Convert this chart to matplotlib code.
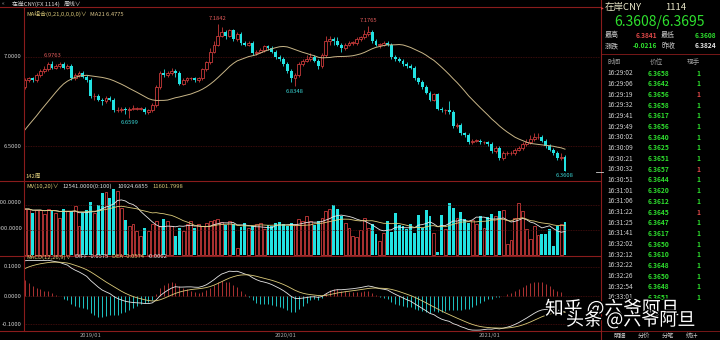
import numpy as np
import pandas as pd
import matplotlib
matplotlib.use('Agg')
import matplotlib.pyplot as plt
from matplotlib import patheffects as pe

plt.rcParams['font.family'] = ['Noto Sans CJK SC', 'DejaVu Sans']

# weekly closes before the visible window (only feed MA21 / MACD)
pre_closes = [6.49, 6.45, 6.40, 6.33, 6.29, 6.32, 6.33, 6.34, 6.33, 6.33,
              6.32, 6.28, 6.31, 6.29, 6.31, 6.33, 6.36, 6.33, 6.38, 6.39,
              6.41, 6.40, 6.44, 6.49, 6.62, 6.64, 6.69, 6.78, 6.82, 6.83,
              6.84, 6.84, 6.81, 6.83]

closes = [6.87, 6.88, 6.87, 6.90, 6.92, 6.93, 6.96, 6.94, 6.95, 6.96,
          6.94, 6.95, 6.88, 6.90, 6.91, 6.89, 6.87, 6.78, 6.78, 6.76,
          6.75, 6.77, 6.76, 6.70, 6.70, 6.71, 6.70, 6.71, 6.71, 6.71,
          6.71, 6.69, 6.70, 6.73, 6.83, 6.91, 6.90, 6.91, 6.92, 6.91,
          6.85, 6.87, 6.88, 6.88, 6.87, 6.88, 6.93, 6.97, 7.03, 7.07,
          7.12, 7.14, 7.12, 7.15, 7.10, 7.13, 7.08, 7.07, 7.08, 7.02,
          7.03, 7.04, 7.06, 7.05, 7.03, 7.00, 6.99, 6.96, 6.92, 6.88,
          6.90, 6.96, 6.98, 6.99, 7.00, 6.98, 6.95, 7.01, 7.09, 7.10,
          7.09, 7.07, 7.05, 7.07, 7.08, 7.08, 7.10, 7.11, 7.13, 7.14,
          7.09, 7.07, 7.07, 7.08, 7.07, 7.00, 6.99, 6.98, 6.96, 6.95,
          6.94, 6.88, 6.86, 6.83, 6.80, 6.76, 6.79, 6.71, 6.70, 6.70,
          6.69, 6.61, 6.62, 6.57, 6.56, 6.52, 6.53, 6.53, 6.52, 6.52,
          6.51, 6.47, 6.49, 6.43, 6.46, 6.46, 6.46, 6.48, 6.49, 6.51,
          6.52, 6.54, 6.55, 6.55, 6.53, 6.50, 6.48, 6.46, 6.43, 6.44, 6.3608]

highs = [6.88, 6.89, 6.89, 6.91, 6.93, 6.95, 6.97, 6.9763, 6.96, 6.97,
         6.97, 6.96, 6.96, 6.91, 6.92, 6.92, 6.90, 6.88, 6.80, 6.79,
         6.77, 6.78, 6.78, 6.77, 6.72, 6.72, 6.72, 6.72, 6.73, 6.72,
         6.72, 6.72, 6.71, 6.74, 6.84, 6.92, 6.93, 6.92, 6.94, 6.93,
         6.92, 6.88, 6.89, 6.89, 6.89, 6.89, 6.94, 6.98, 7.05, 7.09,
         7.1842, 7.17, 7.15, 7.16, 7.16, 7.14, 7.14, 7.09, 7.09, 7.09,
         7.04, 7.05, 7.07, 7.07, 7.06, 7.04, 7.01, 7.00, 6.97, 6.93,
         6.91, 6.97, 6.99, 7.01, 7.02, 7.01, 6.99, 7.02, 7.12, 7.12,
         7.11, 7.11, 7.08, 7.08, 7.09, 7.09, 7.11, 7.12, 7.15, 7.1765,
         7.15, 7.10, 7.08, 7.09, 7.09, 7.08, 7.01, 7.00, 6.99, 6.97,
         6.96, 6.95, 6.89, 6.87, 6.84, 6.81, 6.80, 6.80, 6.72, 6.71,
         6.75, 6.70, 6.63, 6.63, 6.58, 6.57, 6.54, 6.54, 6.54, 6.53,
         6.53, 6.52, 6.50, 6.50, 6.47, 6.47, 6.47, 6.49, 6.50, 6.52,
         6.54, 6.56, 6.57, 6.57, 6.56, 6.54, 6.51, 6.49, 6.47, 6.46, 6.45]

lows = [6.82, 6.86, 6.86, 6.86, 6.89, 6.91, 6.92, 6.93, 6.93, 6.94,
        6.93, 6.93, 6.87, 6.87, 6.89, 6.88, 6.86, 6.77, 6.76, 6.75,
        6.73, 6.74, 6.75, 6.69, 6.69, 6.69, 6.68, 6.6599, 6.70, 6.70,
        6.70, 6.68, 6.68, 6.69, 6.72, 6.82, 6.89, 6.89, 6.90, 6.89,
        6.84, 6.84, 6.86, 6.87, 6.86, 6.86, 6.87, 6.92, 6.96, 7.02,
        7.06, 7.11, 7.10, 7.11, 7.09, 7.09, 7.07, 7.06, 7.06, 7.01,
        7.01, 7.02, 7.03, 7.04, 7.02, 6.99, 6.98, 6.95, 6.91, 6.86,
        6.8348, 6.89, 6.95, 6.97, 6.98, 6.97, 6.93, 6.94, 7.00, 7.07,
        7.07, 7.06, 7.03, 7.04, 7.06, 7.07, 7.07, 7.09, 7.10, 7.12,
        7.08, 7.06, 7.05, 7.06, 7.06, 6.99, 6.98, 6.97, 6.95, 6.94,
        6.93, 6.87, 6.85, 6.82, 6.79, 6.75, 6.75, 6.70, 6.69, 6.68,
        6.68, 6.60, 6.60, 6.56, 6.55, 6.51, 6.51, 6.52, 6.51, 6.51,
        6.50, 6.46, 6.46, 6.42, 6.42, 6.45, 6.45, 6.45, 6.47, 6.48,
        6.50, 6.51, 6.53, 6.54, 6.52, 6.49, 6.47, 6.45, 6.42, 6.42, 6.3608]

volumes = [18400, 18400, 17000, 18000, 18000, 16500, 18400, 17600, 17000, 15000,
           18400, 17500, 17600, 19600, 11600, 17000, 18000, 21200, 17000, 20000,
           24800, 25200, 23000, 26500, 25600, 19000, 14000, 11600, 12400, 9600,
           7600, 10800, 9600, 12400, 13600, 11600, 14400, 13600, 11600, 7600,
           10800, 9600, 12400, 13600, 10800, 12400, 11600, 12800, 13600, 14000,
           14400, 13200, 12000, 13600, 12400, 3000, 11200, 12800, 10800, 11600,
           12400, 12800, 10400, 12000, 11600, 12800, 13200, 12400, 11600, 12800,
           12000, 14400, 13600, 15600, 13600, 12000, 13600, 14800, 17600, 18400,
           20000, 18400, 15600, 12800, 11000, 7600, 7200, 10000, 14800, 10800,
           12400, 8400, 5600, 8800, 13600, 9200, 16800, 12000, 11600, 10400,
           12400, 8800, 16000, 10800, 18000, 15600, 8800, 1200, 16000, 10400,
           20800, 18800, 14800, 17200, 14400, 12800, 14000, 12400, 15600, 10800,
           15200, 16400, 15600, 17600, 18000, 4400, 6000, 14800, 20800, 17600,
           10400, 6400, 11600, 8000, 8400, 8400, 10400, 3600, 11600, 12400, 13200]

mark_high = [7, 50, 89]
mark_low = [27, 70, 140]

year_labels = ['2019/01', '2020/01', '2021/01']
year_pos = [17, 67.5, 120.5]

tick_times = ['16:29:02', '16:29:06', '16:29:19', '16:29:32', '16:29:41', '16:29:49',
              '16:30:02', '16:30:09', '16:30:21', '16:30:32', '16:30:51', '16:31:01',
              '16:31:06', '16:31:22', '16:31:25', '16:31:41', '16:32:02', '16:32:12',
              '16:32:22', '16:32:26', '16:32:54', '16:33:01']
tick_prices = [6.3658, 6.3642, 6.3656, 6.3658, 6.3617, 6.3656, 6.3640, 6.3625,
               6.3651, 6.3657, 6.3644, 6.3620, 6.3612, 6.3645, 6.3647, 6.3617,
               6.3650, 6.3610, 6.3648, 6.3650, 6.3648, 6.3651]
tick_buy = [2, 9, 13]   # rows whose hand count is shown in red

W, H = 720, 340
RED = '#c83a3a'
CYAN = '#22e2e2'
FRAME = '#8a1c1c'
GRID = '#4e1010'
GREY = '#cfcfcf'
YEL = '#dccb7a'
GREEN = '#2ee02e'
SMALL = 4.2

fig = plt.figure(figsize=(7.2, 3.4), dpi=100, facecolor='black')


def rect(x0, y0, x1, y1):
    return [x0 / W, 1 - y1 / H, (x1 - x0) / W, (y1 - y0) / H]


def put(x, y, s, **kw):
    kw.setdefault('va', 'center')
    kw.setdefault('color', GREY)
    kw.setdefault('fontsize', SMALL)
    return fig.text(x / W, 1 - y / H, s, **kw)


def hline(y, x0, x1, **kw):
    fig.add_artist(plt.Line2D([x0 / W, x1 / W], [1 - y / H, 1 - y / H], **kw))


def vline(x, y0, y1, **kw):
    fig.add_artist(plt.Line2D([x / W, x / W], [1 - y0 / H, 1 - y1 / H], **kw))


ax_k = fig.add_axes(rect(24, 7, 600, 181))
ax_v = fig.add_axes(rect(24, 181, 600, 256))
ax_m = fig.add_axes(rect(24, 256, 600, 331))
xlim = (-0.26, 149.07)
for ax in (ax_k, ax_v, ax_m):
    ax.set_facecolor('black')
    ax.set_xlim(*xlim)
    ax.set_axis_off()
ax_k.set_ylim(6.303, 7.281)
ax_v.set_ylim(-400, 29600)
ax_m.set_ylim(-0.1228, 0.140)

n = len(closes)
idx = np.arange(n)
c = np.array(closes)
o = np.r_[pre_closes[-1], c[:-1]]
h = np.array(highs)
l = np.array(lows)
up = c >= o

# grid lines
for yv in (7.0, 6.5):
    ax_k.axhline(yv, color=GRID, lw=0.6, ls=(0, (1, 1)))
for yv in (20000, 10000):
    ax_v.axhline(yv, color=GRID, lw=0.6, ls=(0, (1, 1)))
for yv in (0.1, 0.0, -0.1):
    ax_m.axhline(yv, color=GRID, lw=0.6, ls=(0, (1, 1)))

# candles
ax_k.vlines(idx, l, h, colors=np.where(up, RED, CYAN), lw=0.6, zorder=2)
body_lo = np.minimum(o, c)
body_h = np.maximum(np.abs(c - o), 0.002)
ax_k.bar(idx[up], body_h[up], bottom=body_lo[up], width=0.75,
         facecolor='black', edgecolor=RED, lw=0.6, zorder=3)
ax_k.bar(idx[~up], body_h[~up], bottom=body_lo[~up], width=0.75,
         color=CYAN, lw=0, zorder=3)

allc = pd.Series(pre_closes + closes)
k0 = len(pre_closes)
ma21 = allc.rolling(21).mean().to_numpy()[k0:]
ax_k.plot(idx, ma21, color='#c9b688', lw=0.7, zorder=4)

for i in mark_high:
    ax_k.annotate(f'{highs[i]:.4f}', (i, highs[i]), xytext=(0, 2), textcoords='offset points',
                  ha='center', va='bottom', fontsize=4.2, color='#e05a5a')
for i in mark_low:
    ax_k.annotate(f'{lows[i]:.4f}', (i, lows[i]), xytext=(0, -2), textcoords='offset points',
                  ha='center', va='top', fontsize=4.2, color='#3ad6d6')

# volume
v = np.array(volumes)
ax_v.bar(idx[up], v[up], width=0.75, facecolor='black', edgecolor=RED, lw=0.6)
ax_v.bar(idx[~up], v[~up], width=0.75, color=CYAN, lw=0)
vs = pd.Series(volumes)
ax_v.plot(idx, vs.rolling(10, min_periods=1).mean(), color='#e6e6e6', lw=0.6)
ax_v.plot(idx, vs.rolling(20, min_periods=1).mean(), color=YEL, lw=0.6)

# MACD
ema12 = allc.ewm(span=12, adjust=False).mean()
ema26 = allc.ewm(span=26, adjust=False).mean()
diff = ema12 - ema26
dea = diff.ewm(span=9, adjust=False).mean()
hist = (2 * (diff - dea)).to_numpy()[k0:]
ax_m.vlines(idx, 0, hist, colors=np.where(hist >= 0, RED, CYAN), lw=0.6)
ax_m.plot(idx, diff.to_numpy()[k0:], color='#e6e6e6', lw=0.6)
ax_m.plot(idx, dea.to_numpy()[k0:], color=YEL, lw=0.6)

# frame
for yy in (7, 181, 256, 331):
    hline(yy, 0, 601, color=FRAME, lw=0.8)
vline(24, 7, 331, color=FRAME, lw=0.8)
vline(601, 0, 340, color=FRAME, lw=0.8)

# axis labels (the volume scale is clipped by the left edge, as on screen)
put(22, 57, '7.0000', ha='right')
put(22, 147, '6.5000', ha='right')
put(22, 203, '20000.0000', ha='right')
put(22, 228, '10000.0000', ha='right')
put(22, 267, '0.1000', ha='right')
put(22, 296, '0.0000', ha='right')
put(22, 324, '-0.1000', ha='right')
px_per = 576 / (xlim[1] - xlim[0])
for lab, pos in zip(year_labels, year_pos):
    put(24 + (pos - xlim[0]) * px_per, 336, lab, ha='center', color='#a8a8a8')

# header texts
put(2, 4, '«', color='#a0a0a0')
put(12, 4, '在岸CNY(FX 1114)', color='#d8d8d8')
put(64, 4, '周线∨', color='#d8d8d8')
put(26, 14, 'MA组合(0,21,0,0,0,0)∨', color=YEL)
put(90, 14, 'MA21 6.4775', color='#d8c48a')
put(25, 176, '142周', color=YEL)
put(26, 186, 'MV(10,20)∨', color=YEL)
put(62, 186, '12541.0000(0:100)', color='#e0e0e0')
put(117, 186, '10924.6855', color='#e0e0e0')
put(152, 186, '11601.7998', color=YEL)
put(26, 257, 'MACD(12,26,9)∨', color=YEL)
put(75, 257, 'DIFF -0.0575', color='#e0e0e0')
put(112, 257, 'DEA -0.0574', color=YEL)
put(148, 257, '-0.0002', color='#e0e0e0')
hline(172, 596, 603, color='#d0d0d0', lw=0.6)

# right-side quote panel
put(601, 8, '▸', color='#e04040', fontsize=4)
put(605, 7, '在岸CNY', color='#e8e6c8', fontsize=6.8)
put(665, 7, '1114', color='#e8e6c8', fontsize=6.8)
put(614, 22, '6.3608/6.3695', color=GREEN, fontsize=10)
put(605, 35, '最高', fontsize=5)
put(657, 35, '6.3841', ha='right', color='#e04848', fontsize=4.8, fontweight='bold')
put(661, 35, '最低', fontsize=5)
put(716, 35, '6.3608', ha='right', color=GREEN, fontsize=4.8, fontweight='bold')
put(605, 46, '涨跌', fontsize=5)
put(657, 46, '-0.0216', ha='right', color=GREEN, fontsize=4.8, fontweight='bold')
put(661, 46, '昨收', fontsize=5)
put(716, 46, '6.3824', ha='right', color='#e8e8e8', fontsize=4.8, fontweight='bold')
hline(54, 601, 720, color=FRAME, lw=0.6)
put(607, 62, '时间', color='#a0a0a0', fontsize=4.8)
put(650, 62, '价位', color='#a0a0a0', fontsize=4.8)
put(687, 62, '现手', color='#a0a0a0', fontsize=4.8)
for r, (t, p) in enumerate(zip(tick_times, tick_prices)):
    yy = 73.3 + r * 10.67
    put(607, yy, t, fontsize=4.8)
    put(648, yy, f'{p:.4f}', color=GREEN, fontsize=4.8, fontweight='bold')
    put(696, yy, '1', color='#e04848' if r in tick_buy else GREEN,
        fontsize=4.8, fontweight='bold')
hline(331, 601, 720, color=FRAME, lw=0.6)
for x0, lab in zip((614, 638, 662, 686), ('明细', '分价', '分笔', '统计')):
    put(x0, 336, lab, color='#c8c8c8', fontsize=4.5)

# watermark
stroke = [pe.withStroke(linewidth=2, foreground='black')]
put(545, 309, '知乎 @六爷阿旦', color='white', fontsize=13.5, path_effects=stroke)
put(566, 320, '头条 @六爷阿旦', color='white', fontsize=13, path_effects=stroke)

fig.savefig('out.png', dpi=100, facecolor='black')
